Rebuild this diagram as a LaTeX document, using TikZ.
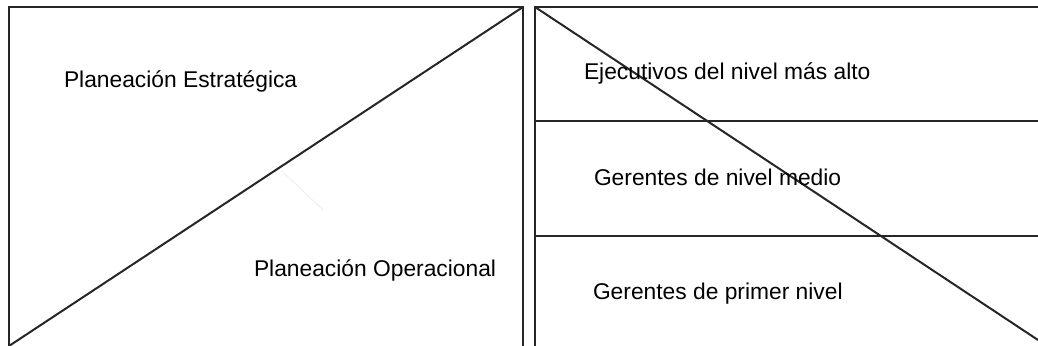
\documentclass[tikz,border=0pt]{standalone}
\usepackage{fontspec}
\setmainfont{Liberation Sans}
\usetikzlibrary{positioning}

\begin{document}
\begin{tikzpicture}[x=0.5pt, y=-0.5pt, line width=1pt,
  txt/.style={anchor=base west, inner sep=0pt, font=\fontsize{11.4}{13}\selectfont}]
\useasboundingbox (0,0) rectangle (1038,346);
\clip (0,0) rectangle (1038,346);
% left box
\coordinate (lt) at (9,7);
\coordinate (rt) at (523,7);
\draw [black!85] (9,360) -- (lt) -- (rt) -- (523,360);
\draw [black!85] (9,346) -- (rt);
\draw [gray!15, line width=0.4pt] (282,171) -- (323,210);
\node [txt] (est) at (63,88) {Planeación Estratégica};
\node [txt] (ope) at (253,277) {Planeación Operacional};
% right box
\coordinate (rl) at (535,7);
\draw [black!85] (535,360) -- (rl) -- (1040,7);
\foreach \y in {121,236}
\draw [black!85] (535,\y) -- (1040,\y);
\draw [black!85] (rl) -- (1038,340);
\node [txt] (eje) at (583,80) {Ejecutivos del nivel más alto};
\node [txt] (med) at (593,186) {Gerentes de nivel medio};
\node [txt] (pri) at (592,300) {Gerentes de primer nivel};
\end{tikzpicture}
\end{document}
